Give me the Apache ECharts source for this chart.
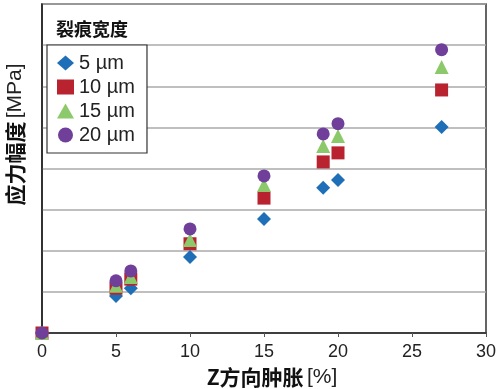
<!DOCTYPE html>
<html><head><meta charset="utf-8">
<script src="https://cdn.jsdelivr.net/npm/echarts@6/dist/echarts.min.js"></script>
<style>html,body{margin:0;padding:0;background:#fff}#c{width:500px;height:389px}</style>
</head><body><div id="c"></div>
<script>
const xTicks = [0, 5, 10, 15, 20, 25, 30];
const swelling = [0, 5, 6, 10, 15, 19, 20, 27];
const seriesNames = ['5 µm', '10 µm', '15 µm', '20 µm'];
const s5 = [0, 0.90, 1.09, 1.85, 2.77, 3.53, 3.72, 5.01];
const s10 = [0, 1.09, 1.31, 2.17, 3.28, 4.16, 4.38, 5.91];
const s15 = [0, 1.15, 1.36, 2.26, 3.60, 4.55, 4.79, 6.47];
const s20 = [0, 1.27, 1.51, 2.53, 3.82, 4.84, 5.09, 6.89];
const legendTitle = '裂痕宽度';

const colors = ['#1f6fb8', '#b8232f', '#8cc96a', '#6f3f9a'];
const symbols = ['diamond', 'rect', 'triangle', 'circle'];
const sizes = [14, 13, 14, 13];
const allVals = [s5, s10, s15, s20];
const font = '"Liberation Sans", Arial, sans-serif';
const cjk = '"Noto Sans CJK SC", sans-serif';

const chart = echarts.init(document.getElementById('c'));
chart.setOption({
  animation: false,
  textStyle: {fontFamily: font},
  title: {
    text: legendTitle, left: 51, top: 15,
    textStyle: {fontFamily: cjk, fontWeight: 'bold', fontSize: 18, color: '#111'}
  },
  legend: {
    orient: 'vertical', left: 47, top: 45,
    backgroundColor: '#fff', borderColor: '#333', borderWidth: 1.2,
    padding: [8, 12, 8, 10], itemGap: 4, itemWidth: 17, itemHeight: 15,
    textStyle: {fontSize: 20, color: '#222', fontFamily: font},
    data: seriesNames.map((n, i) => ({name: n, icon: symbols[i]}))
  },
  grid: {left: 42, right: 14, top: 4, bottom: 56, outerBoundsMode: 'none', containLabel: false,
    show: true, borderColor: '#333', borderWidth: 1.5, backgroundColor: 'transparent'},
  xAxis: {
    type: 'value', min: xTicks[0], max: xTicks[xTicks.length - 1], interval: 5,
    axisLine: {lineStyle: {color: '#222', width: 1.5}},
    axisTick: {show: true, length: 4, lineStyle: {color: '#555'}},
    splitLine: {show: false},
    axisLabel: {fontSize: 18, color: '#222', margin: 10},
    name: '{b|Z方向肿胀} {n|[%]}', nameLocation: 'middle', nameGap: 34,
    nameTextStyle: {padding: [0, 0, 0, 16], rich: {
      b: {fontFamily: cjk, fontWeight: 'bold', fontSize: 21, color: '#111'},
      n: {fontFamily: font, fontSize: 21, color: '#222'}
    }}
  },
  yAxis: {
    type: 'value', min: 0, max: 8, interval: 1,
    axisLine: {lineStyle: {color: '#222', width: 1.5}},
    axisTick: {show: false},
    axisLabel: {show: false},
    splitLine: {lineStyle: {color: '#aaa', width: 1.5}},
    name: '{b|应力幅度} {n|[MPa]}', nameLocation: 'middle', nameGap: 16,
    nameTextStyle: {padding: [0, 0, 0, 68], rich: {
      b: {fontFamily: cjk, fontWeight: 'bold', fontSize: 21, color: '#111'},
      n: {fontFamily: font, fontSize: 21, color: '#222'}
    }}
  },
  series: seriesNames.map((n, i) => ({
    name: n, type: 'scatter', symbol: symbols[i], symbolSize: sizes[i],
    itemStyle: {color: colors[i], opacity: 1},
    data: swelling.map((x, j) => [x, allVals[i][j]]),
    z: 2 + i
  }))
});
</script></body></html>
